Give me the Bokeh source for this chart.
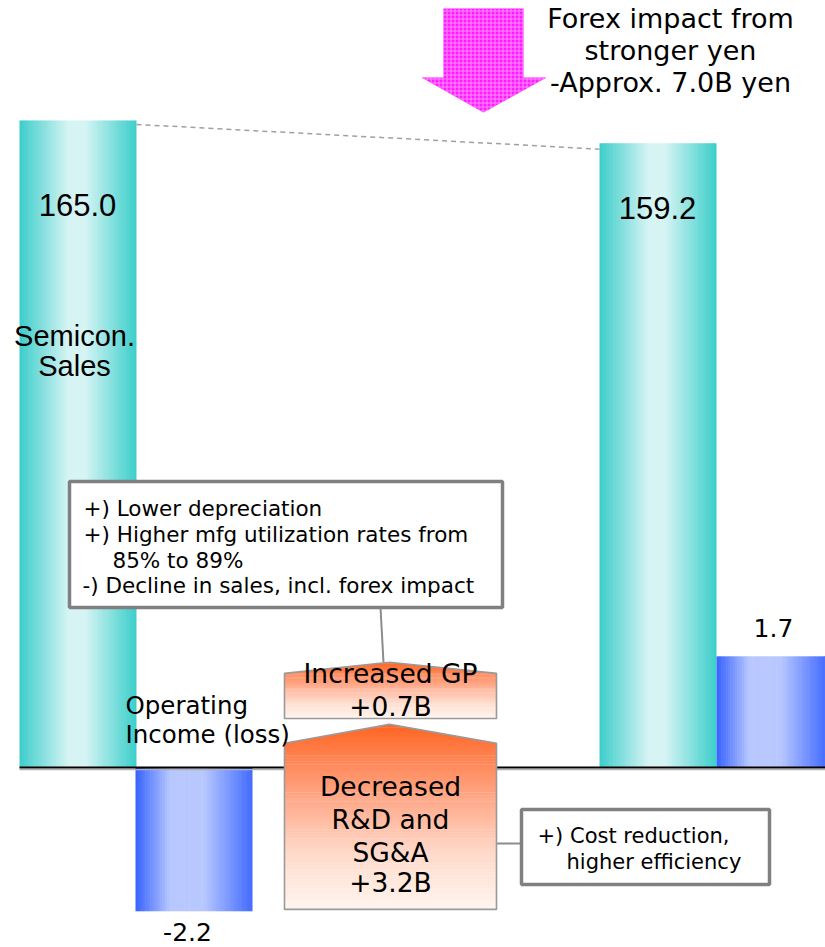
from bokeh.plotting import figure
from bokeh.models import Range1d
from bokeh.core.properties import value
from bokeh.embed import file_html
from bokeh.resources import INLINE

# ---------------- data ----------------
periods = ["Prior", "Current"]
semicon_sales = [165.0, 159.2]          # B yen
operating_income = [-2.2, 1.7]          # B yen
bridge_items = ["Decreased R&D and SG&A", "Increased GP"]
bridge_values = [3.2, 0.7]              # B yen
forex_impact = -7.0                     # B yen

title_lines = ["Forex impact from", "stronger yen",
               "-Approx. %.1fB yen" % abs(forex_impact)]
gp_notes = ["+) Lower depreciation", "+) Higher mfg utilization rates from",
            "85% to 89%", "-) Decline in sales, incl. forex impact"]
cost_notes = ["+) Cost reduction,", "higher efficiency"]

# ---------------- layout (screen-like coordinates) ----------------
W, H = 825, 947
X0, Y0 = 0, 0
BASE = 767.0                      # screen y of zero line
SALES_K = (BASE - 120.0) / semicon_sales[0]     # px per B yen (sales)
INC_K = 65.385                                   # px per B yen (income)
YB, YT = Y0 + H, Y0

p = figure(width=W, height=H, x_range=Range1d(X0, X0 + W), y_range=Range1d(YB, YT),
           output_backend="svg", toolbar_location=None, min_border=0,
           x_axis_location=None, y_axis_location=None, outline_line_color=None,
           background_fill_color="white", border_fill_color="white")
p.grid.visible = False
p.extra_y_ranges = {
    "sales": Range1d(-(YB - BASE) / SALES_K, (BASE - YT) / SALES_K),
    "inc": Range1d(-(YB - BASE) / INC_K, (BASE - YT) / INC_K),
}


def interp(stops, t):
    for (t0, c0), (t1, c1) in zip(stops[:-1], stops[1:]):
        if t0 <= t <= t1:
            f = 0 if t1 == t0 else (t - t0) / (t1 - t0)
            return "#%02x%02x%02x" % tuple(int(round(a + (b - a) * f)) for a, b in zip(c0, c1))
    return "#%02x%02x%02x" % tuple(stops[-1][1])


TEAL = [(0, (60, 205, 202)), (0.42, (214, 244, 244)), (0.56, (214, 244, 244)), (1, (58, 206, 202))]
BLUE = [(0, (55, 98, 255)), (0.3, (184, 200, 255)), (0.58, (184, 200, 255)), (1, (66, 106, 255))]
ORANGE = [(0, (255, 100, 34)), (0.35, (255, 160, 125)), (0.7, (255, 218, 203)), (1, (255, 246, 240))]


def grad_bar(x0, x1, top, bottom, stops, rng, n=48):
    w = (x1 - x0) / n
    lefts = [x0 + i * w for i in range(n)]
    rights = [min(x1, x0 + (i + 1) * w + 0.6) for i in range(n)]
    cols = [interp(stops, (i + 0.5) / n) for i in range(n)]
    p.quad(left=lefts, right=rights, top=[top] * n, bottom=[bottom] * n,
           fill_color=cols, line_color=None, y_range_name=rng)


# bars (sales: teal, income: blue)
sales_x = [(19, 136), (599, 716)]
inc_x = [(135, 252), (716, 826)]
for (a, b), v in zip(sales_x, semicon_sales):
    grad_bar(a, b, v, 0, TEAL, "sales")
for (a, b), v in zip(inc_x, operating_income):
    grad_bar(a, b, max(v, 0), min(v, 0), BLUE, "inc")

# dashed connector between sales tops
p.line(x=[sales_x[0][1], sales_x[1][0]], y=[semicon_sales[0] - 1.0, semicon_sales[1] - 1.5],
       y_range_name="sales", line_color="#a0a0a0", line_width=1.5, line_dash="5 4")

# zero line
p.line(x=[19, 830], y=[0, 0], y_range_name="inc", line_color="black", line_width=2)
p.line(x=[19, 830], y=[-2.2 / INC_K, -2.2 / INC_K], y_range_name="inc",
       line_color="#b0b0b0", line_width=1.2)

# connectors to the note boxes
p.line(x=[380, 383], y=[607, 662], line_color="#8c8c8c", line_width=2)
p.line(x=[496, 521], y=[843, 843], line_color="#8c8c8c", line_width=2)


def clip(poly, lo, hi):
    def cut(pts, keep, yc):
        out = []
        for i in range(len(pts)):
            (xa, ya), (xb, yb) = pts[i - 1], pts[i]
            ina, inb = keep(ya), keep(yb)
            if inb:
                if not ina:
                    f = (yc - ya) / (yb - ya)
                    out.append((xa + (xb - xa) * f, yc))
                out.append((xb, yb))
            elif ina:
                f = (yc - ya) / (yb - ya)
                out.append((xa + (xb - xa) * f, yc))
        return out
    pts = cut(poly, lambda y: y >= lo, lo)
    if pts:
        pts = cut(pts, lambda y: y <= hi, hi)
    return pts


def pent_box(xl, xr, bottom, side_top, peak, stops, n=60):
    xm = (xl + xr) / 2 - 1
    poly = [(xl, bottom), (xl, side_top), (xm, peak), (xr, side_top), (xr, bottom)]
    xs, ys, cols = [], [], []
    h = (peak - bottom) / n
    for i in range(n):
        hi = peak - i * h
        lo = max(bottom, hi - h - 0.006)
        pts = clip(poly, lo, hi)
        if len(pts) >= 3:
            xs.append([q[0] for q in pts])
            ys.append([q[1] for q in pts])
            cols.append(interp(stops, (i + 0.5) / n))
    p.patches(xs=xs, ys=ys, fill_color=cols, line_color=None, y_range_name="inc")
    p.patch(x=[q[0] for q in poly], y=[q[1] for q in poly], fill_color=None,
            line_color="#9a9a9a", line_width=1.6, y_range_name="inc")


# waterfall bridge boxes (schematic gaps)
start = operating_income[0]
rd_end = start + bridge_values[0]
gp_end = rd_end + bridge_values[1]
pent_box(284, 496, start + 0.03, rd_end - 0.63, rd_end - 0.34, ORANGE)
pent_box(284, 496, rd_end - 0.25, gp_end - 0.26, gp_end - 0.09, ORANGE)

# note boxes
p.quad(left=[69], right=[502], top=[481], bottom=[607], fill_color="white",
       line_color="#808080", line_width=3.5)
p.quad(left=[521], right=[769], top=[809], bottom=[884], fill_color="white",
       line_color="#808080", line_width=3.5)

DV = value("DejaVu Sans")
LS = value("Liberation Sans")

p.text(x=[83, 83, 112, 82], y=[508, 534, 560, 585], text=gp_notes, text_font=DV,
       text_font_size="21.5px", text_align="left", text_baseline="middle", text_color="black")
p.text(x=[537, 566], y=[835, 861], text=cost_notes, text_font=DV,
       text_font_size="21px", text_align="left", text_baseline="middle", text_color="black")

# forex arrow
ax = [443, 523, 523, 546, 483, 421, 443]
ay = [8, 8, 77, 77, 112, 77, 77]
p.patch(x=ax, y=ay, fill_color="#ff1aff", line_color=None, hatch_pattern="+",
        hatch_color="#ff8cff", hatch_scale=4, hatch_weight=1)
p.text(x=[670] * 3, y=[18, 50, 82], text=title_lines, text_font=DV, text_font_size="27px",
       text_align="center", text_baseline="middle", text_color="black")

# bar value labels
p.text(x=[77, 657], y=[semicon_sales[0] - 21.5, semicon_sales[1] - 16.5],
       text=["%.1f" % v for v in semicon_sales], y_range_name="sales", text_font=LS,
       text_font_size="31px", text_align="center", text_baseline="middle", text_color="black")
p.text(x=[74, 74], y=[335, 365], text=["Semicon.", "Sales"], text_font=LS,
       text_font_size="29px", text_align="center", text_baseline="middle", text_color="black")
p.text(x=[187, 773], y=[operating_income[0] - 0.32, operating_income[1] + 0.43],
       text=["%.1f" % v for v in operating_income], y_range_name="inc", text_font=DV,
       text_font_size="25px", text_align="center", text_baseline="middle", text_color="black")
p.text(x=[125, 125], y=[705, 734], text=["Operating", "Income (loss)"], text_font=DV,
       text_font_size="24.5px", text_align="left", text_baseline="middle", text_color="black")

# bridge labels
p.text(x=[390, 390], y=[673, 706], text=[bridge_items[1], "+%.1fB" % bridge_values[1]],
       text_font=DV, text_font_size="26.5px", text_align="center", text_baseline="middle",
       text_color="black")
p.text(x=[390] * 4, y=[786, 819, 852, 882],
       text=["Decreased", "R&D and", "SG&A", "+%.1fB" % bridge_values[0]],
       text_font=DV, text_font_size="26.5px", text_align="center", text_baseline="middle",
       text_color="black")

open("out.html", "w").write(file_html(p, INLINE))
